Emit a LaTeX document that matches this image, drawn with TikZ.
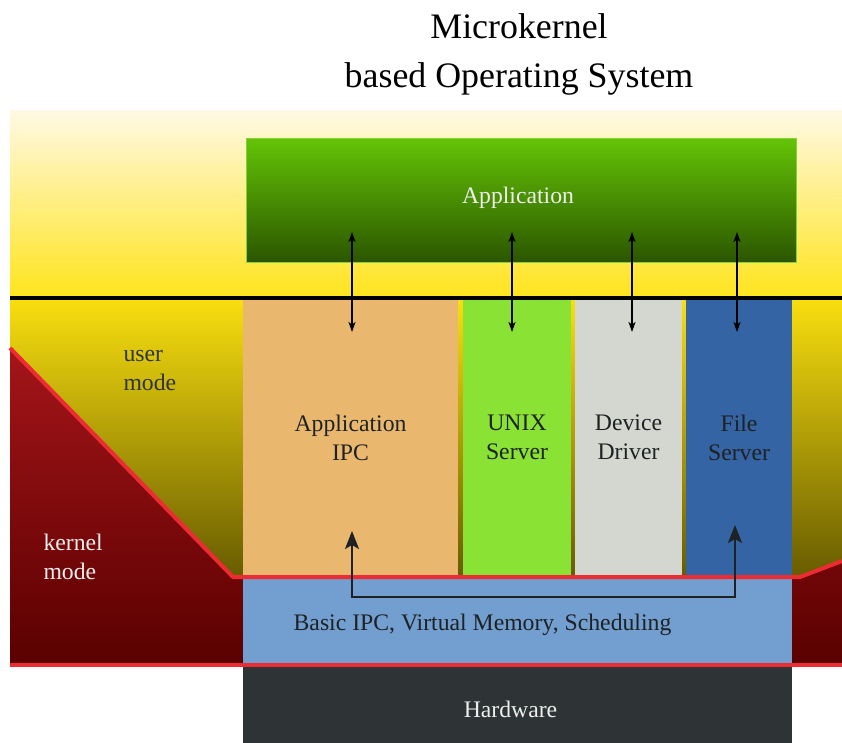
\documentclass[tikz,border=0pt]{standalone}
\usepackage{fontspec}
\setmainfont{Liberation Serif}
\usetikzlibrary{arrows.meta}

\definecolor{cream}{HTML}{FFF9E4}
\definecolor{butter}{HTML}{FFE41C}
\definecolor{userTop}{HTML}{F9DF0F}
\definecolor{userBot}{HTML}{665A00}
\definecolor{kernTop}{HTML}{A41519}
\definecolor{kernBot}{HTML}{5A0000}
\definecolor{scarlet}{HTML}{EC2B33}
\definecolor{appTop}{HTML}{64C406}
\definecolor{appBot}{HTML}{2B5600}
\definecolor{ipcTan}{HTML}{E9B86E}
\definecolor{unixGreen}{HTML}{8AE234}
\definecolor{drvGrey}{HTML}{D4D7CF}
\definecolor{fsBlue}{HTML}{3464A4}
\definecolor{coreBlue}{HTML}{729FCF}
\definecolor{hwDark}{HTML}{2E3436}
\definecolor{ink}{HTML}{1E2224}
\definecolor{paleText}{HTML}{EEEEEC}

\begin{document}
\begin{tikzpicture}[x=1bp,y=-1bp,
  label font/.style={font=\fontsize{23.8}{29}\selectfont},
  layerbox/.style={inner sep=0pt, outer sep=0pt, anchor=north west,
    align=center, label font, text=ink},
  biarrow/.style={line width=1.6bp, draw=black,
    {Stealth[length=10bp,width=7bp,inset=2.5bp]}-{Stealth[length=10bp,width=7bp,inset=2.5bp]}},
  ipcpath/.style={line width=2bp, draw=ink,
    {Stealth[length=18bp,width=14bp,inset=4bp]}-{Stealth[length=18bp,width=14bp,inset=4bp]}},
  border/.style={draw=scarlet, line width=4bp, line join=round}]

\useasboundingbox[fill=white] (0,0) rectangle (842,743);

% title
\node[anchor=base, font=\fontsize{36}{44}\selectfont, text=black] (title1) at (519,39) {Microkernel};
\node[anchor=base, font=\fontsize{36}{44}\selectfont, text=black] (title2) at (519,87) {based Operating System};

% background bands
\shade[top color=cream, bottom color=butter] (10,110) rectangle (842,298);
\shade[top color=userTop, bottom color=userBot] (10,298) rectangle (842,580);
\shade[top color=kernTop, bottom color=kernBot]
  (10,348) -- (233,577) -- (800,577) -- (842,561) -- (842,665) -- (10,665) -- cycle;

% separator between the two halves
\draw[line width=4bp, black] (10,298) -- (842,298);

% mode labels
\node[anchor=base west, align=left, label font, text=hwDark] (umode) at (120,390) {user\\mode};
\node[anchor=base west, align=left, label font, text=paleText] (kmode) at (40,579) {kernel\\mode};

% application
\node[layerbox, top color=appTop, bottom color=appBot, draw=appTop!80!white, line width=0.6bp,
  minimum width=550bp, minimum height=124bp] (app) at (246,138) {};
\node[label font, text=paleText] (apptext) at ([xshift=-3bp,yshift=2bp]app.center) {Application};

% user-level servers
\node[layerbox, fill=ipcTan, minimum width=215bp, minimum height=275bp] (ipc) at (243,300) {Application\\IPC};
\node[layerbox, fill=unixGreen, minimum width=108bp, minimum height=275bp] (unix) at (463,300) {UNIX\\Server};
\node[layerbox, fill=drvGrey, minimum width=107bp, minimum height=275bp] (drv) at (575,300) {Device\\Driver};
\node[layerbox, fill=fsBlue, minimum width=106bp, minimum height=275bp] (fs) at (686,300) {File\\Server};

% microkernel and hardware
\node[layerbox, fill=coreBlue, minimum width=549bp, minimum height=88bp] (core) at (243,577) {};
\node[label font, text=ink] (coretext) at ([xshift=-35bp,yshift=-4bp]core.center) {Basic IPC, Virtual Memory, Scheduling};
\node[layerbox, fill=hwDark, minimum width=549bp, minimum height=76bp] (hw) at (243,667) {};
\node[label font, text=paleText] (hwtext) at ([xshift=-7bp,yshift=-4bp]hw.center) {Hardware};

% kernel boundary
\draw[border] (10,348) -- (233,577) -- (800,577) -- (842,561);
\draw[border] (10,665) -- (842,665);

% calls between the application and the servers
\coordinate (upper) at ([yshift=30bp]app.south);
\coordinate (lower) at ([yshift=-32bp]ipc.north);
\draw[biarrow] ([xshift=1.5bp]ipc.center |- upper) -- ([xshift=1.5bp]ipc.center |- lower);
\draw[biarrow] ([xshift=-5bp]unix.center |- upper) -- ([xshift=-5bp]unix.center |- lower);
\draw[biarrow] ([xshift=3.5bp]drv.center |- upper) -- ([xshift=3.5bp]drv.center |- lower);
\draw[biarrow] ([xshift=-2bp]fs.center |- upper) -- ([xshift=-2bp]fs.center |- lower);

% IPC through the microkernel
\coordinate (busL) at (352,597);
\coordinate (busR) at (735,597);
\draw[ipcpath] ([yshift=66bp]busL) -- (busL) -- (busR) -- ([yshift=72bp]busR);
\end{tikzpicture}
\end{document}
